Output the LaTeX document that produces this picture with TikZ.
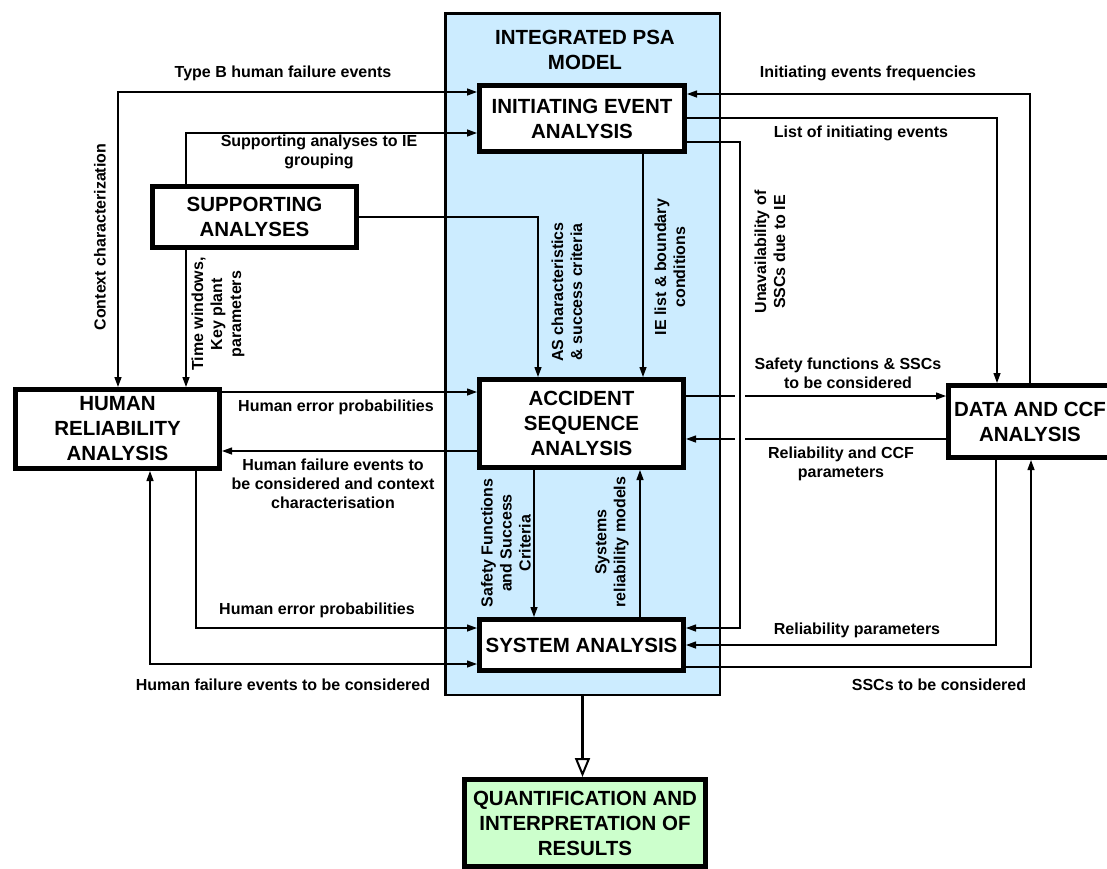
\documentclass[tikz,border=0pt]{standalone}
\usepackage{fontspec}
\setmainfont{Liberation Sans}
\usepackage{xcolor}
\usetikzlibrary{arrows.meta,calc}
\definecolor{psablue}{RGB}{204,236,255}
\definecolor{resgreen}{RGB}{204,255,204}
\newcommand{\boxfont}{\fontsize{20.5}{25}\selectfont\bfseries}
\newcommand{\labfont}{\fontsize{16}{19}\selectfont\bfseries}

\begin{document}
\begin{tikzpicture}[
x=1pt, y=-1pt,
MyBox/.style={draw=black,fill=white,line width=5pt,inner sep=0pt,align=center,font=\boxfont},
MyLabel/.style={inner sep=0pt,align=center,font=\labfont},
MyLabelV/.style={MyLabel,rotate=90},
Flow/.style={draw=black,line width=1.3pt,-{Triangle[length=10pt,width=7pt]}},
Flow2/.style={Flow,{Triangle[length=10pt,width=7pt]}-{Triangle[length=10pt,width=7pt]}},
BigFlow/.style={draw=black,line width=2.5pt,-{Triangle[open,fill=white,length=19pt,width=15pt,line width=2pt]}}
]
\useasboundingbox (0,0) rectangle (1107,868);
\clip (0,0) rectangle (1107,868);

% the integrated PSA model frame
\node[draw=black,line width=2.5pt,fill=psablue,inner sep=0pt,
      minimum width=274.5pt,minimum height=681.5pt] (PSA) at (582.5,354) {};
\node[MyLabel,font=\boxfont] (Title) at (585,49.5) {INTEGRATED PSA\\MODEL};

% boxes
\node[MyBox,minimum width=205pt,minimum height=66pt] (IE) at (582,118.5) {INITIATING EVENT\\ANALYSIS};
\node[MyBox,minimum width=204pt,minimum height=88pt] (ASA) at (581.5,423.5) {ACCIDENT\\SEQUENCE\\ANALYSIS};
\node[MyBox,minimum width=204pt,minimum height=51pt] (SA) at (581.5,645) {SYSTEM ANALYSIS};
\node[MyBox,minimum width=204pt,minimum height=61pt] (SUPP) at (254.5,217) {SUPPORTING\\ANALYSES};
\node[MyBox,minimum width=204pt,minimum height=79pt] (HRA) at (117.5,429) {HUMAN\\RELIABILITY\\ANALYSIS};
\node[MyBox,minimum width=163pt,minimum height=72pt] (DATA) at (1030,421.5) {DATA AND CCF\\ANALYSIS};
\node[MyBox,fill=resgreen,minimum width=241pt,minimum height=87pt] (QUANT) at (585,823) {QUANTIFICATION AND\\INTERPRETATION OF\\RESULTS};

% bend points of the connectors
\coordinate (TB) at (118,92);
\coordinate (SG) at (186,133);
\coordinate (AC) at (538,217);
\coordinate (IL) at (643,0);
\coordinate (FQ) at (1030,94);
\coordinate (LI) at (997,118);
\coordinate (UA) at (740,142);
\coordinate (UB) at (740,628);
\coordinate (HT) at (0,392);
\coordinate (HC) at (0,451);
\coordinate (SF) at (0,396);
\coordinate (RC) at (0,439);
\coordinate (SS) at (534,0);
\coordinate (SR) at (640,0);
\coordinate (HB) at (196,628);
\coordinate (HF) at (150,664);
\coordinate (RP) at (996,645);
\coordinate (SC) at (1031,667);

% connectors
\draw[Flow2] (HRA.north -| TB) -- (TB) -- (TB -| IE.west);
\draw[Flow] (SUPP.north -| SG) -- (SG) -- (SG -| IE.west);
\draw[Flow] (SUPP.south -| SG) -- (HRA.north -| SG);
\draw[Flow] (SUPP.east |- AC) -- (AC) -- (ASA.north -| AC);
\draw[Flow] (IE.south -| IL) -- (ASA.north -| IL);
\draw[Flow] (DATA.north -| FQ) -- (FQ) -- (FQ -| IE.east);
\draw[Flow] (IE.east |- LI) -- (LI) -- (DATA.north -| LI);
\draw[Flow] (HRA.east |- HT) -- (ASA.west |- HT);
\draw[Flow] (ASA.west |- HC) -- (HRA.east |- HC);
\draw[Flow] (ASA.east |- SF) -- (DATA.west |- SF);
\draw[Flow] (DATA.west |- RC) -- (ASA.east |- RC);

% gaps where the lines cross
\fill[white] (735,390) rectangle (745,445);
\draw[Flow] (IE.east |- UA) -- (UA) -- (UB) -- (UB -| SA.east);

\draw[Flow] (ASA.south -| SS) -- (SA.north -| SS);
\draw[Flow] (SA.north -| SR) -- (ASA.south -| SR);
\draw[Flow] (HRA.south -| HB) -- (HB) -- (HB -| SA.west);
\draw[Flow2] (HF -| SA.west) -- (HF) -- (HRA.south -| HF);
\draw[Flow] (DATA.south -| RP) -- (RP) -- (RP -| SA.east);
\draw[Flow] (SA.east |- SC) -- (SC) -- (DATA.south -| SC);
\draw[BigFlow] (PSA.south) -- (PSA.south |- QUANT.north);

% labels
\node[MyLabel] (lTB) at (283,73) {Type B human failure events};
\node[MyLabel] (lSG) at (319,152) {Supporting analyses to IE\\grouping};
\node[MyLabelV] (lCC) at (100,237) {Context characterization};
\node[MyLabelV] (lTW) at (218,314) {Time windows,\\Key plant\\parameters};
\node[MyLabelV] (lAC) at (567,292) {AS characteristics\\\& success criteria};
\node[MyLabelV] (lIL) at (670,267) {IE list \& boundary\\conditions};
\node[MyLabelV] (lUA) at (770,252) {Unavailability of\\SSCs due to IE};
\node[MyLabel] (lFQ) at (868,73) {Initiating events frequencies};
\node[MyLabel] (lLI) at (861,133) {List of initiating events};
\node[MyLabel] (lHT) at (336,407) {Human error probabilities};
\node[MyLabel] (lHC) at (333,484) {Human failure events to\\be considered and context\\characterisation};
\node[MyLabel] (lSF) at (848,373) {Safety functions \& SSCs\\to be considered};
\node[MyLabel] (lRC) at (841,464) {Reliability and CCF\\parameters};
\node[MyLabelV] (lSS) at (506,543) {Safety Functions\\and Success\\Criteria};
\node[MyLabelV] (lSR) at (612,542) {Systems\\reliability models};
\node[MyLabel] (lHB) at (317,610) {Human error probabilities};
\node[MyLabel] (lRP) at (857,630) {Reliability parameters};
\node[MyLabel] (lHF) at (283,685) {Human failure events to be considered};
\node[MyLabel] (lSC) at (939,685) {SSCs to be considered};

\end{tikzpicture}
\end{document}
